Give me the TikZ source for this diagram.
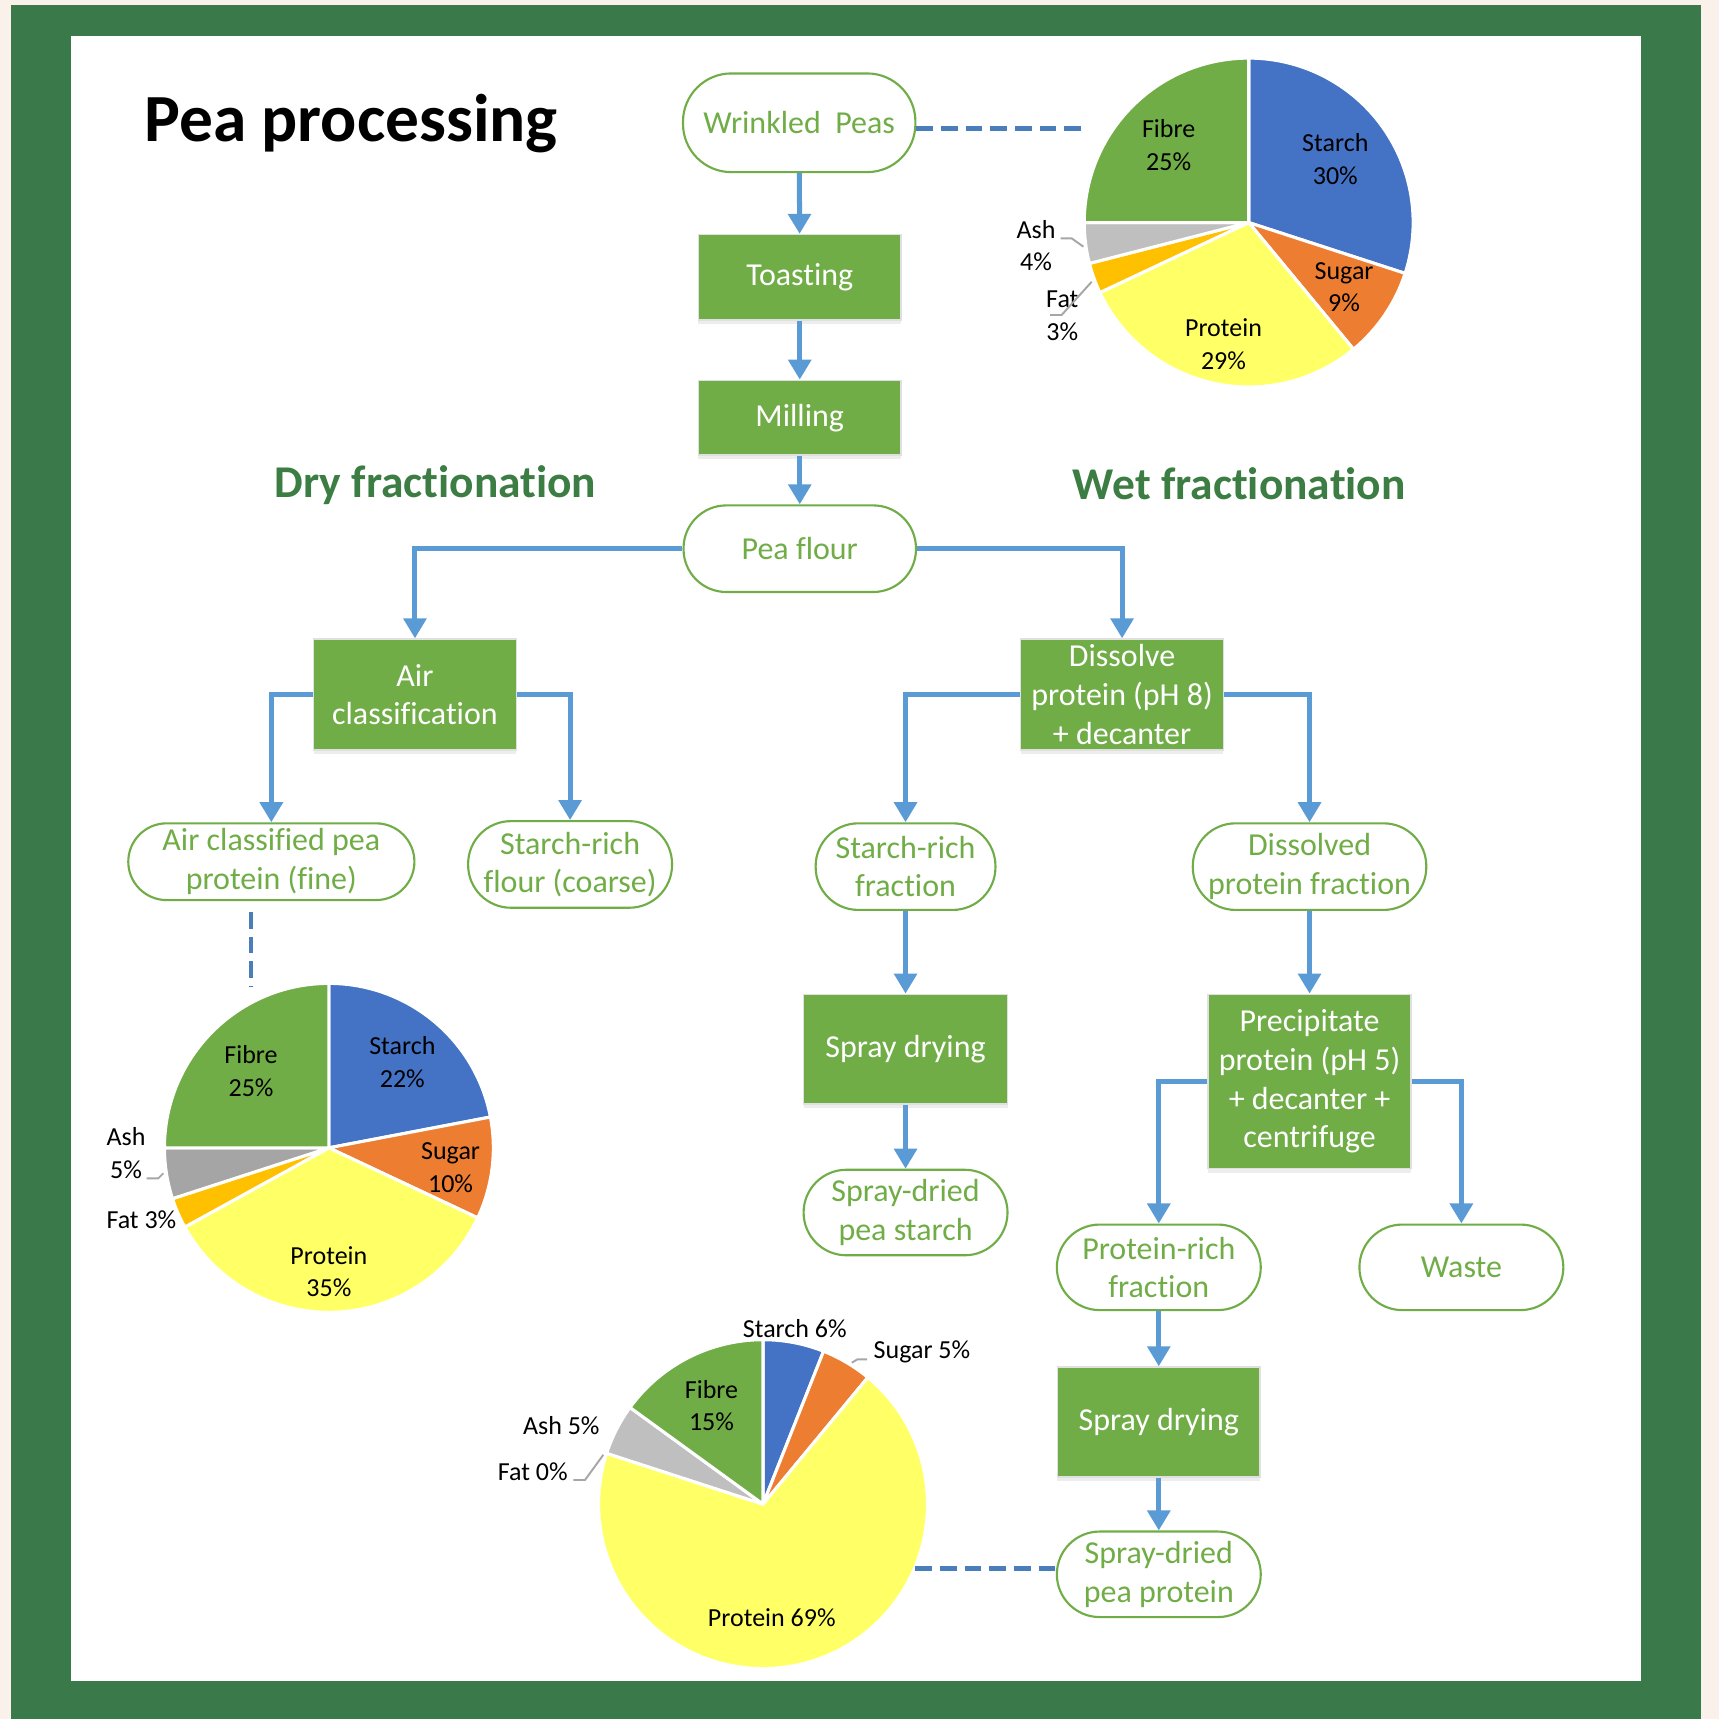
\documentclass[tikz,border=0pt]{standalone}
\usepackage{fontspec}
\setmainfont{Carlito}[Ligatures=CommonOff]
\usetikzlibrary{arrows.meta,positioning,shadows}

\definecolor{pagecream}{HTML}{FAF1EB}
\definecolor{framegreen}{HTML}{3A7A4A}
\definecolor{headgreen}{HTML}{3C7D44}
\definecolor{boxgreen}{HTML}{70AD47}
\definecolor{arrowblue}{HTML}{5B9BD5}
\definecolor{dashblue}{HTML}{4A7EBB}
\definecolor{pieStarch}{HTML}{4472C4}
\definecolor{pieSugar}{HTML}{ED7D31}
\definecolor{pieProtein}{HTML}{FFFF66}
\definecolor{pieFat}{HTML}{FFC000}
\definecolor{pieAsh}{HTML}{BFBFBF}
\definecolor{pieAshDark}{HTML}{A5A5A5}

\begin{document}
\begin{tikzpicture}[x=1cm,y=1cm]
\tikzset{
  procbox/.style={rectangle,fill=boxgreen,draw=black!12,line width=0.4pt,text=white,align=center,inner sep=1pt,font=\fontsize{8.3}{10}\selectfont,drop shadow={shadow xshift=0pt,shadow yshift=-1pt,fill=black,opacity=0.07}},
  prodnode/.style={rectangle,rounded corners=3.9mm,fill=white,draw=boxgreen,line width=0.55pt,text=boxgreen,align=center,inner sep=0pt,font=\fontsize{8.3}{10}\selectfont},
  flowarrow/.style={draw=arrowblue,line width=1.3pt,-{Triangle[length=5.2pt,width=5.8pt]}},
  linkdash/.style={draw=dashblue,line width=1.25pt,dash pattern=on 4.3pt off 2.1pt},
  pielabel/.style={font=\fontsize{6.75}{8.5}\selectfont,align=center,inner sep=0pt},
  slice/.style={draw=white,line width=0.8pt,line join=round},
  leader/.style={draw=black!35,line width=0.5pt},
  heading/.style={font=\fontsize{11.8}{13}\selectfont\bfseries,text=headgreen,anchor=base west,inner sep=0pt}
}
% frame
\fill[pagecream] (0,0) rectangle (15.68,-15.68);
\fill[framegreen] (0.10,-0.05) rectangle (15.52,-15.68);
\fill[white] (0.65,-0.33) rectangle (14.97,-15.33);
\useasboundingbox (0,0) rectangle (15.68,-15.68);

\node[anchor=base west,inner sep=0pt,font=\fontsize{17.5}{20}\selectfont\bfseries] (t_title) at (1.31,-1.293) {Pea processing};
\node[heading] (t_dry) at (2.50,-4.54) {Dry fractionation};
\node[heading] (t_wet) at (9.78,-4.56) {Wet fractionation};

% process chain
\node[prodnode,rounded corners=4.4mm,minimum width=2.12cm,minimum height=0.90cm] (n_peas) at (7.29,-1.12) {Wrinkled\ \ Peas};
\node[procbox,minimum width=1.85cm,minimum height=0.78cm] (n_toast) at (7.295,-2.53) {Toasting};
\node[procbox,minimum width=1.85cm,minimum height=0.68cm] (n_mill) at (7.295,-3.81) {Milling};
\node[prodnode,minimum width=2.12cm,minimum height=0.79cm] (n_flour) at (7.295,-5.005) {Pea flour};
\node[procbox,minimum width=1.85cm,minimum height=1.01cm] (n_air) at (3.785,-6.335) {Air\\classification};
\node[procbox,minimum width=1.85cm,minimum height=1.01cm] (n_diss) at (10.235,-6.335) {Dissolve\\protein (pH 8)\\+ decanter};
\node[prodnode,rounded corners=3.5mm,minimum width=2.61cm,minimum height=0.70cm] (n_airfine) at (2.475,-7.86) {Air classified pea\\protein (fine)};
\node[prodnode,minimum width=1.86cm,minimum height=0.79cm] (n_coarse) at (5.20,-7.885) {Starch-rich\\flour (coarse)};
\node[prodnode,minimum width=1.64cm,minimum height=0.79cm] (n_starchfr) at (8.26,-7.905) {Starch-rich\\fraction};
\node[prodnode,minimum width=2.13cm,minimum height=0.79cm] (n_dissprot) at (11.945,-7.905) {Dissolved\\protein fraction};
\node[procbox,minimum width=1.86cm,minimum height=1.00cm] (n_spray1) at (8.26,-9.57) {Spray drying};
\node[prodnode,minimum width=1.86cm,minimum height=0.78cm] (n_drstarch) at (8.26,-11.06) {Spray-dried\\pea starch};
\node[procbox,minimum width=1.85cm,minimum height=1.59cm] (n_precip) at (11.945,-9.865) {Precipitate\\protein (pH 5)\\+ decanter +\\centrifuge};
\node[prodnode,minimum width=1.86cm,minimum height=0.78cm] (n_protfr) at (10.57,-11.56) {Protein-rich\\fraction};
\node[prodnode,minimum width=1.86cm,minimum height=0.78cm] (n_waste) at (13.33,-11.56) {Waste};
\node[procbox,minimum width=1.85cm,minimum height=1.00cm] (n_spray2) at (10.57,-12.97) {Spray drying};
\node[prodnode,minimum width=1.86cm,minimum height=0.78cm] (n_drprot) at (10.57,-14.36) {Spray-dried\\pea protein};

\draw[flowarrow] (n_peas) -- (n_toast);
\draw[flowarrow] (n_toast) -- (n_mill);
\draw[flowarrow] (n_mill) -- (n_flour);
\draw[flowarrow] (n_flour.west) -| (n_air.north);
\draw[flowarrow] (n_flour.east) -| (n_diss.north);
\draw[flowarrow] (n_air.west) -| (n_airfine.north);
\draw[flowarrow] (n_air.east) -| (n_coarse.north);
\draw[flowarrow] (n_diss.west) -| (n_starchfr.north);
\draw[flowarrow] (n_diss.east) -| (n_dissprot.north);
\draw[flowarrow] (n_starchfr) -- (n_spray1);
\draw[flowarrow] (n_spray1) -- (n_drstarch);
\draw[flowarrow] (n_dissprot) -- (n_precip);
\draw[flowarrow] (n_precip.west) -| (n_protfr.north);
\draw[flowarrow] (n_precip.east) -| (n_waste.north);
\draw[flowarrow] (n_protfr) -- (n_spray2);
\draw[flowarrow] (n_spray2) -- (n_drprot);

% pie: wrinkled peas
\coordinate (c_pieA) at (11.39,-2.03);
\foreach \a/\b/\c in {90/-18/pieStarch,-18/-50.4/pieSugar,-50.4/-154.8/pieProtein,-154.8/-165.6/pieFat,-165.6/-180/pieAsh,-180/-270/boxgreen}
  \filldraw[slice,fill=\c] (c_pieA) -- ++(\a:1.5) arc[start angle=\a,end angle=\b,radius=1.5] -- cycle;
\node[pielabel] (l_A_fibre) at (10.66,-1.32) {Fibre\\25\%};
\node[pielabel] (l_A_starch) at (12.18,-1.45) {Starch\\30\%};
\node[pielabel] (l_A_sugar) at (12.26,-2.62) {Sugar\\9\%};
\node[pielabel] (l_A_prot) at (11.16,-3.14) {Protein\\29\%};
\node[pielabel] (l_A_ash) at (9.45,-2.24) {Ash\\4\%};
\node[pielabel] (l_A_fat) at (9.69,-2.88) {Fat\\3\%};
\draw[leader] (9.675,-2.174) -- (9.775,-2.174) -- (9.882,-2.25);
\draw[leader] (9.578,-2.873) -- (9.684,-2.873) -- (9.958,-2.57);

% pie: air classified protein
\coordinate (c_pieB) at (3.00,-10.47);
\foreach \a/\b/\c in {90/10.8/pieStarch,10.8/-25.2/pieSugar,-25.2/-151.2/pieProtein,-151.2/-162/pieFat,-162/-180/pieAshDark,-180/-270/boxgreen}
  \filldraw[slice,fill=\c] (c_pieB) -- ++(\a:1.5) arc[start angle=\a,end angle=\b,radius=1.5] -- cycle;
\node[pielabel] (l_B_fibre) at (2.29,-9.77) {Fibre\\25\%};
\node[pielabel] (l_B_starch) at (3.67,-9.69) {Starch\\22\%};
\node[pielabel] (l_B_sugar) at (4.11,-10.65) {Sugar\\10\%};
\node[pielabel] (l_B_prot) at (3.00,-11.60) {Protein\\35\%};
\node[pielabel] (l_B_ash) at (1.15,-10.52) {Ash\\5\%};
\node[pielabel] (l_B_fat) at (1.29,-11.13) {Fat 3\%};
\draw[leader] (1.338,-10.748) -- (1.444,-10.748) -- (1.49,-10.702);

% pie: spray-dried protein
\coordinate (c_pieC) at (6.96,-13.72);
\foreach \a/\b/\c in {90/68.4/pieStarch,68.4/50.4/pieSugar,50.4/-198/pieProtein,-198/-216/pieAsh,-216/-270/boxgreen}
  \filldraw[slice,fill=\c] (c_pieC) -- ++(\a:1.5) arc[start angle=\a,end angle=\b,radius=1.5] -- cycle;
\node[pielabel] (l_C_starch) at (7.25,-12.12) {Starch 6\%};
\node[pielabel] (l_C_sugar) at (8.41,-12.33) {Sugar 5\%};
\node[pielabel] (l_C_fibre) at (6.49,-12.82) {Fibre\\15\%};
\node[pielabel] (l_C_ash) at (5.12,-13.00) {Ash 5\%};
\node[pielabel] (l_C_fat) at (4.86,-13.42) {Fat 0\%};
\node[pielabel] (l_C_prot) at (7.04,-14.76) {Protein 69\%};
\draw[leader] (7.77,-12.43) -- (7.82,-12.40) -- (7.91,-12.40);
\draw[leader] (5.23,-13.50) -- (5.336,-13.50) -- (5.503,-13.27);

% dashed links to the charts
\coordinate (c_pieA_link) at (9.88,-1.17);
\coordinate (c_fine_link) at (2.29,-8.32);
\coordinate (c_pieB_link) at (2.29,-9.00);
\coordinate (c_pieC_link) at (8.35,-14.31);
\draw[linkdash] (n_peas.east |- c_pieA_link) -- (c_pieA_link);
\draw[linkdash] (c_fine_link) -- (c_pieB_link);
\draw[linkdash] (c_pieC_link) -- (n_drprot.west |- c_pieC_link);
\end{tikzpicture}
\end{document}
